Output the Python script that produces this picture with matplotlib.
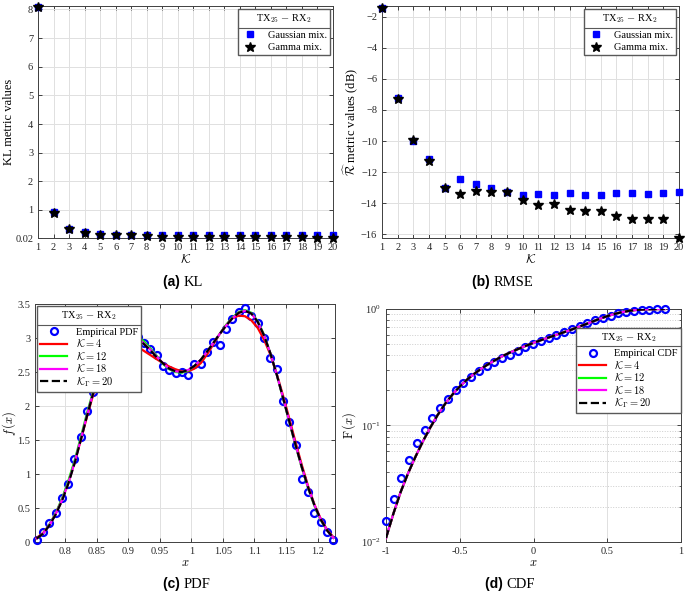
import matplotlib
matplotlib.use("Agg")
import matplotlib.pyplot as plt
import matplotlib.ticker as mticker
from matplotlib.lines import Line2D
from matplotlib.transforms import IdentityTransform

plt.rcParams['font.family'] = ['Liberation Serif', 'DejaVu Serif']
plt.rcParams['mathtext.fontset'] = 'cm'
plt.rcParams['axes.edgecolor'] = '0.25'
plt.rcParams['xtick.color'] = '0.15'
plt.rcParams['ytick.color'] = '0.15'

# ---- data: KL / RMSE vs number of components ----
k_values = list(range(1, 21))
kl_gauss = [8.1, 0.93, 0.35, 0.23, 0.15, 0.14, 0.14, 0.13, 0.12, 0.12,
            0.12, 0.12, 0.12, 0.11, 0.11, 0.12, 0.11, 0.11, 0.11, 0.11]
kl_gamma = [8.1, 0.91, 0.33, 0.21, 0.14, 0.12, 0.11, 0.10, 0.07, 0.06,
            0.05, 0.05, 0.04, 0.04, 0.04, 0.04, 0.04, 0.04, 0.03, 0.03]
rmse_gauss = [-1.4, -7.25, -10.0, -11.15, -13.05, -12.45, -12.75, -13.0, -13.3, -13.45,
              -13.4, -13.45, -13.35, -13.45, -13.45, -13.35, -13.35, -13.4, -13.35, -13.3]
rmse_gamma = [-1.4, -7.3, -9.95, -11.3, -13.05, -13.4, -13.2, -13.3, -13.3, -13.8,
              -14.15, -14.05, -14.45, -14.5, -14.5, -14.85, -15.05, -15.0, -15.0, -16.25]

# ---- data: PDF ----
pdf_x = [0.755, 0.765, 0.775, 0.785, 0.795, 0.805, 0.815, 0.825, 0.835, 0.845,
         0.855, 0.865, 0.875, 0.885, 0.895, 0.905, 0.915, 0.925, 0.935, 0.945,
         0.955, 0.965, 0.975, 0.985, 0.995, 1.005, 1.015, 1.025, 1.035, 1.045,
         1.055, 1.065, 1.075, 1.085, 1.095, 1.105, 1.115, 1.125, 1.135, 1.145,
         1.155, 1.165, 1.175, 1.185, 1.195, 1.205, 1.215, 1.225]
pdf_emp = [0.03, 0.14, 0.28, 0.43, 0.65, 0.86, 1.22, 1.55, 1.92, 2.20,
           2.50, 2.75, 2.90, 3.00, 3.05, 3.05, 3.02, 2.93, 2.84, 2.75,
           2.59, 2.53, 2.49, 2.50, 2.46, 2.62, 2.62, 2.79, 2.94, 2.89,
           3.13, 3.28, 3.38, 3.44, 3.33, 3.22, 3.00, 2.71, 2.55, 2.08,
           1.76, 1.43, 0.92, 0.74, 0.42, 0.29, 0.14, 0.03]
pdf_k4 = [0.06, 0.13, 0.25, 0.41, 0.62, 0.87, 1.17, 1.50, 1.85, 2.18,
          2.47, 2.70, 2.86, 2.94, 2.96, 2.93, 2.87, 2.81, 2.75, 2.69,
          2.63, 2.58, 2.54, 2.51, 2.51, 2.55, 2.63, 2.76, 2.91, 3.06,
          3.19, 3.29, 3.33, 3.32, 3.26, 3.15, 2.98, 2.76, 2.48, 2.16,
          1.82, 1.47, 1.13, 0.82, 0.55, 0.34, 0.18, 0.07]
pdf_k12 = [0.05, 0.12, 0.25, 0.42, 0.63, 0.89, 1.19, 1.54, 1.90, 2.23,
           2.52, 2.76, 2.92, 3.02, 3.06, 3.06, 3.02, 2.95, 2.85, 2.74,
           2.62, 2.54, 2.50, 2.49, 2.52, 2.59, 2.68, 2.80, 2.93, 3.06,
           3.19, 3.30, 3.38, 3.41, 3.37, 3.25, 3.05, 2.78, 2.47, 2.12,
           1.77, 1.42, 1.09, 0.79, 0.53, 0.32, 0.17, 0.06]
pdf_k18 = [0.05, 0.12, 0.24, 0.41, 0.61, 0.86, 1.16, 1.51, 1.87, 2.21,
           2.51, 2.75, 2.92, 3.02, 3.05, 3.05, 3.00, 2.92, 2.83, 2.73,
           2.63, 2.55, 2.51, 2.50, 2.53, 2.59, 2.68, 2.80, 2.93, 3.06,
           3.18, 3.29, 3.37, 3.40, 3.36, 3.24, 3.04, 2.78, 2.47, 2.13,
           1.78, 1.43, 1.10, 0.80, 0.54, 0.33, 0.17, 0.06]
pdf_kg20 = [0.05, 0.12, 0.24, 0.40, 0.60, 0.85, 1.15, 1.50, 1.86, 2.20,
            2.50, 2.74, 2.91, 3.01, 3.05, 3.04, 2.99, 2.91, 2.82, 2.72,
            2.63, 2.55, 2.51, 2.50, 2.53, 2.59, 2.68, 2.80, 2.93, 3.06,
            3.18, 3.29, 3.37, 3.40, 3.36, 3.24, 3.04, 2.78, 2.47, 2.13,
            1.78, 1.43, 1.10, 0.80, 0.54, 0.33, 0.17, 0.06]

# ---- data: CDF ----
cdf_emp_x = [-1.0, -0.9475, -0.895, -0.8425, -0.79, -0.7375, -0.685, -0.6325, -0.58, -0.5275,
             -0.475, -0.4225, -0.37, -0.3175, -0.265, -0.2125, -0.16, -0.1075, -0.055, -0.0025,
             0.05, 0.1025, 0.155, 0.2075, 0.26, 0.3125, 0.365, 0.4175, 0.47, 0.5225,
             0.575, 0.6275, 0.68, 0.7325, 0.785, 0.8375, 0.89]
cdf_emp = [0.0150, 0.0235, 0.0356, 0.0508, 0.0701, 0.0918, 0.116, 0.142, 0.170, 0.202,
           0.231, 0.260, 0.292, 0.321, 0.351, 0.378, 0.406, 0.440, 0.469, 0.501,
           0.532, 0.564, 0.594, 0.631, 0.670, 0.715, 0.754, 0.800, 0.838, 0.877,
           0.918, 0.948, 0.968, 0.983, 0.990, 0.995, 1.0]
cdf_fit_x = [-1.0, -0.95, -0.9, -0.85, -0.8, -0.75, -0.7, -0.65, -0.6, -0.55,
             -0.5, -0.45, -0.4, -0.35, -0.3, -0.25, -0.2, -0.15, -0.1, -0.05,
             0.0, 0.05, 0.1, 0.15, 0.2, 0.25, 0.3, 0.35, 0.4, 0.45,
             0.5, 0.55, 0.6, 0.65, 0.7, 0.75, 0.8, 0.85, 0.89]
cdf_fit = [0.0108, 0.0175, 0.027, 0.039, 0.054, 0.073, 0.096, 0.123, 0.153, 0.184,
           0.216, 0.248, 0.279, 0.310, 0.340, 0.370, 0.400, 0.428, 0.456, 0.484,
           0.512, 0.540, 0.568, 0.597, 0.628, 0.660, 0.697, 0.737, 0.780, 0.825,
           0.868, 0.907, 0.940, 0.965, 0.982, 0.992, 0.997, 0.999, 1.0]

legend_title = r'TX$_{25}$ $-$ RX$_{2}$'
tick_fs = 7.5
label_fs = 9
leg_fs = 7.5

fig = plt.figure(figsize=(6.85, 5.96), dpi=100)
W, H = 685, 596


def add_axes(left, top, right, bottom):
    return fig.add_axes([left / W, 1 - bottom / H, (right - left) / W, (bottom - top) / H])


def style(ax):
    ax.tick_params(direction='in', top=True, right=True, labelsize=tick_fs,
                   length=3, width=0.6, which='major')
    ax.tick_params(direction='in', top=True, right=True, which='minor', length=1.8, width=0.5)
    ax.grid(True, color='0.88', linewidth=0.7)
    ax.set_axisbelow(True)
    for s in ax.spines.values():
        s.set_linewidth(0.7)


def make_legend(ax, spacing=0.05, **kw):
    leg = ax.legend(title=legend_title, fontsize=leg_fs, title_fontsize=leg_fs,
                    fancybox=False, edgecolor='0.35', framealpha=1, borderpad=0.3,
                    labelspacing=spacing, **kw)
    leg.set_zorder(20)
    leg._legend_box.sep = 4
    return leg


legends = []

# (a) KL
ax1 = add_axes(38, 6, 333, 238)
ax1.plot(k_values, kl_gauss, 's', color='blue', ms=4.5, clip_on=False, label='Gaussian mix.', zorder=3)
ax1.plot(k_values, kl_gamma, '*', color='black', ms=7, clip_on=False, label='Gamma mix.', zorder=4)
ax1.set_xlim(1, 20)
ax1.set_ylim(0.02, 8.12)
ax1.set_xticks(k_values)
ax1.set_yticks([0.02, 1, 2, 3, 4, 5, 6, 7, 8])
ax1.yaxis.set_major_formatter(mticker.FormatStrFormatter('%g'))
ax1.set_xlabel(r'$\mathcal{K}$', fontsize=label_fs, labelpad=1)
ax1.set_ylabel('KL metric values', fontsize=label_fs)
ax1.yaxis.set_label_coords(-0.078, 0.5)
style(ax1)
legends.append(make_legend(ax1, spacing=0.3, loc='upper right', handlelength=1.6,
                           borderaxespad=0.3, handletextpad=0.9))

# (b) RMSE
ax2 = add_axes(382, 6, 679, 238)
ax2.plot(k_values, rmse_gauss, 's', color='blue', ms=4.5, clip_on=False, label='Gaussian mix.', zorder=3)
ax2.plot(k_values, rmse_gamma, '*', color='black', ms=7, clip_on=False, label='Gamma mix.', zorder=4)
ax2.set_xlim(1, 20)
ax2.set_ylim(-16.25, -1.3)
ax2.set_xticks(k_values)
ax2.set_yticks(list(range(-16, -1, 2)))
ax2.set_xlabel(r'$\mathcal{K}$', fontsize=label_fs, labelpad=1)
ax2.set_ylabel(r'$\widehat{\mathcal{R}}$ metric values (dB)', fontsize=label_fs)
ax2.yaxis.set_label_coords(-0.074, 0.5)
style(ax2)
legends.append(make_legend(ax2, spacing=0.3, loc='upper right', handlelength=1.6,
                           borderaxespad=0.3, handletextpad=0.9))

# (c) PDF
ax3 = add_axes(35, 304, 335, 542)
ax3.plot(pdf_x, pdf_emp, 'o', mfc='none', mec='blue', mew=1.6, ms=5, label='Empirical PDF', zorder=3, clip_on=False)
ax3.plot(pdf_x, pdf_k4, color='red', lw=1.6, label=r'$\mathcal{K}=4$', zorder=4)
ax3.plot(pdf_x, pdf_k12, color='#00ff00', lw=1.6, label=r'$\mathcal{K}=12$', zorder=4)
ax3.plot(pdf_x, pdf_k18, color='magenta', lw=1.6, label=r'$\mathcal{K}=18$', zorder=5)
ax3.plot(pdf_x, pdf_kg20, '--', color='black', lw=1.6, label=r'$\mathcal{K}_\Gamma=20$', zorder=6)
ax3.set_xlim(0.7525, 1.2275)
ax3.set_ylim(0, 3.5)
ax3.set_xticks([0.8, 0.85, 0.9, 0.95, 1.0, 1.05, 1.1, 1.15, 1.2])
ax3.xaxis.set_major_formatter(mticker.FormatStrFormatter('%g'))
ax3.yaxis.set_major_formatter(mticker.FormatStrFormatter('%g'))
ax3.set_xlabel(r'$x$', fontsize=label_fs, labelpad=1)
ax3.set_ylabel(r'$f\,(x)$', fontsize=label_fs)
ax3.yaxis.set_label_coords(-0.058, 0.5)
style(ax3)
legends.append(make_legend(ax3, loc='upper left', handlelength=2.6, borderaxespad=0.2))

# (d) CDF
ax4 = add_axes(386, 309, 681, 542)
ax4.plot(cdf_emp_x, cdf_emp, 'o', mfc='none', mec='blue', mew=1.6, ms=5, label='Empirical CDF', zorder=3, clip_on=False)
ax4.plot(cdf_fit_x, cdf_fit, color='red', lw=1.6, label=r'$\mathcal{K}=4$', zorder=4)
ax4.plot(cdf_fit_x, cdf_fit, color='#00ff00', lw=1.6, label=r'$\mathcal{K}=12$', zorder=4)
ax4.plot(cdf_fit_x, cdf_fit, color='magenta', lw=1.6, label=r'$\mathcal{K}=18$', zorder=5)
ax4.plot(cdf_fit_x, cdf_fit, '--', color='black', lw=1.6, label=r'$\mathcal{K}_\Gamma=20$', zorder=6)
ax4.set_yscale('log')
ax4.set_xlim(-1, 1)
ax4.set_ylim(0.01, 1)
ax4.set_xticks([-1, -0.5, 0, 0.5, 1])
ax4.xaxis.set_major_formatter(mticker.FormatStrFormatter('%g'))
ax4.set_xlabel(r'$x$', fontsize=label_fs, labelpad=1)
ax4.set_ylabel(r'$\mathrm{F}\,(x)$', fontsize=label_fs)
ax4.yaxis.set_label_coords(-0.095, 0.5)
style(ax4)
ax4.grid(True, which='minor', axis='y', color='0.8', linestyle=':', linewidth=0.7)
legends.append(make_legend(ax4, loc='upper right', bbox_to_anchor=(1.0, 0.92), handlelength=2.6,
                           borderaxespad=0.0))

# captions
captions = [(184, 282, '(a)', 'KL'), (494, 282, '(b)', 'RMSE'),
            (183.5, 584, '(c)', 'PDF'), (506.5, 584, '(d)', 'CDF')]
for cx, cy, tag, name in captions:
    fig.text(cx / W, 1 - cy / H, tag + ' ', ha='right', va='center', fontsize=10,
             fontweight='bold', family='Liberation Sans')
    fig.text(cx / W, 1 - cy / H, name, ha='left', va='center', fontsize=10.5)

# separator line under legend titles (MATLAB style)
fig.canvas.draw()
renderer = fig.canvas.get_renderer()
for leg in legends:
    fb = leg.get_frame().get_window_extent(renderer)
    tb = leg.get_title().get_window_extent(renderer)
    hb = leg._legend_handle_box.get_window_extent(renderer)
    y = 0.5 * (tb.y0 + hb.y1)
    fig.add_artist(Line2D([fb.x0, fb.x1], [y, y], transform=IdentityTransform(),
                          color='0.35', lw=0.8, zorder=30))

fig.savefig('out.png', dpi=100)
